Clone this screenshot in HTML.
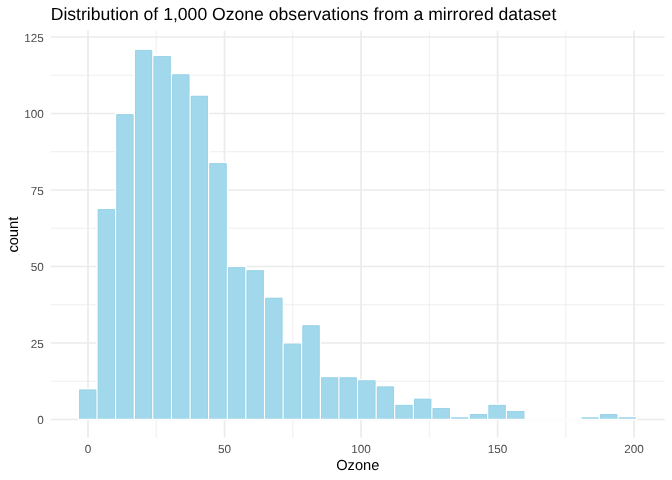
<!DOCTYPE html>
<html><head><meta charset="utf-8"><style>
html,body{margin:0;padding:0;background:#fff;overflow:hidden;width:672px;height:480px;}
svg{display:block;will-change:transform;}
text{font-family:"Liberation Sans",sans-serif;text-rendering:geometricPrecision;}
.ax{font-size:11.73px;fill:#4D4D4D;}
.at{font-size:14.67px;fill:#000;}
.ti{font-size:17.6px;fill:#000;}
</style></head><body>
<svg width="672" height="480" viewBox="0 0 672 480">
<rect x="0" y="0" width="672" height="480" fill="#fff"/>
<line x1="156.26" y1="30.8" x2="156.26" y2="437.7" stroke="#EBEBEB" stroke-width="0.85"/>
<line x1="292.79" y1="30.8" x2="292.79" y2="437.7" stroke="#EBEBEB" stroke-width="0.85"/>
<line x1="429.31" y1="30.8" x2="429.31" y2="437.7" stroke="#EBEBEB" stroke-width="0.85"/>
<line x1="565.84" y1="30.8" x2="565.84" y2="437.7" stroke="#EBEBEB" stroke-width="0.85"/>
<line x1="50.9" y1="381.25" x2="664.67" y2="381.25" stroke="#EBEBEB" stroke-width="0.85"/>
<line x1="50.9" y1="304.75" x2="664.67" y2="304.75" stroke="#EBEBEB" stroke-width="0.85"/>
<line x1="50.9" y1="228.25" x2="664.67" y2="228.25" stroke="#EBEBEB" stroke-width="0.85"/>
<line x1="50.9" y1="151.75" x2="664.67" y2="151.75" stroke="#EBEBEB" stroke-width="0.85"/>
<line x1="50.9" y1="75.25" x2="664.67" y2="75.25" stroke="#EBEBEB" stroke-width="0.85"/>
<line x1="88.00" y1="30.8" x2="88.00" y2="437.7" stroke="#EBEBEB" stroke-width="1.7"/>
<line x1="224.53" y1="30.8" x2="224.53" y2="437.7" stroke="#EBEBEB" stroke-width="1.7"/>
<line x1="361.05" y1="30.8" x2="361.05" y2="437.7" stroke="#EBEBEB" stroke-width="1.7"/>
<line x1="497.58" y1="30.8" x2="497.58" y2="437.7" stroke="#EBEBEB" stroke-width="1.7"/>
<line x1="634.10" y1="30.8" x2="634.10" y2="437.7" stroke="#EBEBEB" stroke-width="1.7"/>
<line x1="50.9" y1="419.50" x2="664.67" y2="419.50" stroke="#EBEBEB" stroke-width="1.7"/>
<line x1="50.9" y1="343.00" x2="664.67" y2="343.00" stroke="#EBEBEB" stroke-width="1.7"/>
<line x1="50.9" y1="266.50" x2="664.67" y2="266.50" stroke="#EBEBEB" stroke-width="1.7"/>
<line x1="50.9" y1="190.00" x2="664.67" y2="190.00" stroke="#EBEBEB" stroke-width="1.7"/>
<line x1="50.9" y1="113.50" x2="664.67" y2="113.50" stroke="#EBEBEB" stroke-width="1.7"/>
<line x1="50.9" y1="37.00" x2="664.67" y2="37.00" stroke="#EBEBEB" stroke-width="1.7"/>
<rect x="78.45" y="388.90" width="18.61" height="30.60" fill="rgb(162,216,235)" stroke="#fff" stroke-width="1.42"/>
<rect x="97.06" y="208.36" width="18.61" height="211.14" fill="rgb(162,216,235)" stroke="#fff" stroke-width="1.42"/>
<rect x="115.66" y="113.50" width="18.61" height="306.00" fill="rgb(162,216,235)" stroke="#fff" stroke-width="1.42"/>
<rect x="134.27" y="49.24" width="18.61" height="370.26" fill="rgb(162,216,235)" stroke="#fff" stroke-width="1.42"/>
<rect x="152.88" y="55.36" width="18.61" height="364.14" fill="rgb(162,216,235)" stroke="#fff" stroke-width="1.42"/>
<rect x="171.49" y="73.72" width="18.61" height="345.78" fill="rgb(162,216,235)" stroke="#fff" stroke-width="1.42"/>
<rect x="190.09" y="95.14" width="18.61" height="324.36" fill="rgb(162,216,235)" stroke="#fff" stroke-width="1.42"/>
<rect x="208.70" y="162.46" width="18.61" height="257.04" fill="rgb(162,216,235)" stroke="#fff" stroke-width="1.42"/>
<rect x="227.31" y="266.50" width="18.61" height="153.00" fill="rgb(162,216,235)" stroke="#fff" stroke-width="1.42"/>
<rect x="245.91" y="269.56" width="18.61" height="149.94" fill="rgb(162,216,235)" stroke="#fff" stroke-width="1.42"/>
<rect x="264.52" y="297.10" width="18.61" height="122.40" fill="rgb(162,216,235)" stroke="#fff" stroke-width="1.42"/>
<rect x="283.13" y="343.00" width="18.61" height="76.50" fill="rgb(162,216,235)" stroke="#fff" stroke-width="1.42"/>
<rect x="301.73" y="324.64" width="18.61" height="94.86" fill="rgb(162,216,235)" stroke="#fff" stroke-width="1.42"/>
<rect x="320.34" y="376.66" width="18.61" height="42.84" fill="rgb(162,216,235)" stroke="#fff" stroke-width="1.42"/>
<rect x="338.95" y="376.66" width="18.61" height="42.84" fill="rgb(162,216,235)" stroke="#fff" stroke-width="1.42"/>
<rect x="357.56" y="379.72" width="18.61" height="39.78" fill="rgb(162,216,235)" stroke="#fff" stroke-width="1.42"/>
<rect x="376.16" y="385.84" width="18.61" height="33.66" fill="rgb(162,216,235)" stroke="#fff" stroke-width="1.42"/>
<rect x="394.77" y="404.20" width="18.61" height="15.30" fill="rgb(162,216,235)" stroke="#fff" stroke-width="1.42"/>
<rect x="413.38" y="398.08" width="18.61" height="21.42" fill="rgb(162,216,235)" stroke="#fff" stroke-width="1.42"/>
<rect x="431.98" y="407.26" width="18.61" height="12.24" fill="rgb(162,216,235)" stroke="#fff" stroke-width="1.42"/>
<rect x="450.59" y="416.44" width="18.61" height="3.06" fill="rgb(162,216,235)" stroke="#fff" stroke-width="1.42"/>
<rect x="469.20" y="413.38" width="18.61" height="6.12" fill="rgb(162,216,235)" stroke="#fff" stroke-width="1.42"/>
<rect x="487.80" y="404.20" width="18.61" height="15.30" fill="rgb(162,216,235)" stroke="#fff" stroke-width="1.42"/>
<rect x="506.41" y="410.32" width="18.61" height="9.18" fill="rgb(162,216,235)" stroke="#fff" stroke-width="1.42"/>
<rect x="525.02" y="419.50" width="18.61" height="0.00" fill="rgb(162,216,235)" stroke="#fff" stroke-width="1.42"/>
<rect x="543.62" y="419.50" width="18.61" height="0.00" fill="rgb(162,216,235)" stroke="#fff" stroke-width="1.42"/>
<rect x="562.23" y="419.50" width="18.61" height="0.00" fill="rgb(162,216,235)" stroke="#fff" stroke-width="1.42"/>
<rect x="580.84" y="416.44" width="18.61" height="3.06" fill="rgb(162,216,235)" stroke="#fff" stroke-width="1.42"/>
<rect x="599.45" y="413.38" width="18.61" height="6.12" fill="rgb(162,216,235)" stroke="#fff" stroke-width="1.42"/>
<rect x="618.05" y="416.44" width="18.61" height="3.06" fill="rgb(162,216,235)" stroke="#fff" stroke-width="1.42"/>
<path d="M79.66 418.79 V390.11 H95.85 V418.79" fill="none" stroke="rgb(155,212,233)" stroke-width="1"/>
<path d="M98.27 418.79 V209.57 H114.45 V418.79" fill="none" stroke="rgb(155,212,233)" stroke-width="1"/>
<path d="M116.87 418.79 V114.71 H133.06 V418.79" fill="none" stroke="rgb(155,212,233)" stroke-width="1"/>
<path d="M135.48 418.79 V50.45 H151.67 V418.79" fill="none" stroke="rgb(155,212,233)" stroke-width="1"/>
<path d="M154.09 418.79 V56.57 H170.28 V418.79" fill="none" stroke="rgb(155,212,233)" stroke-width="1"/>
<path d="M172.70 418.79 V74.93 H188.88 V418.79" fill="none" stroke="rgb(155,212,233)" stroke-width="1"/>
<path d="M191.30 418.79 V96.35 H207.49 V418.79" fill="none" stroke="rgb(155,212,233)" stroke-width="1"/>
<path d="M209.91 418.79 V163.67 H226.10 V418.79" fill="none" stroke="rgb(155,212,233)" stroke-width="1"/>
<path d="M228.52 418.79 V267.71 H244.70 V418.79" fill="none" stroke="rgb(155,212,233)" stroke-width="1"/>
<path d="M247.12 418.79 V270.77 H263.31 V418.79" fill="none" stroke="rgb(155,212,233)" stroke-width="1"/>
<path d="M265.73 418.79 V298.31 H281.92 V418.79" fill="none" stroke="rgb(155,212,233)" stroke-width="1"/>
<path d="M284.34 418.79 V344.21 H300.52 V418.79" fill="none" stroke="rgb(155,212,233)" stroke-width="1"/>
<path d="M302.94 418.79 V325.85 H319.13 V418.79" fill="none" stroke="rgb(155,212,233)" stroke-width="1"/>
<path d="M321.55 418.79 V377.87 H337.74 V418.79" fill="none" stroke="rgb(155,212,233)" stroke-width="1"/>
<path d="M340.16 418.79 V377.87 H356.35 V418.79" fill="none" stroke="rgb(155,212,233)" stroke-width="1"/>
<path d="M358.76 418.79 V380.93 H374.95 V418.79" fill="none" stroke="rgb(155,212,233)" stroke-width="1"/>
<path d="M377.37 418.79 V387.05 H393.56 V418.79" fill="none" stroke="rgb(155,212,233)" stroke-width="1"/>
<path d="M395.98 418.79 V405.41 H412.17 V418.79" fill="none" stroke="rgb(155,212,233)" stroke-width="1"/>
<path d="M414.59 418.79 V399.29 H430.77 V418.79" fill="none" stroke="rgb(155,212,233)" stroke-width="1"/>
<path d="M433.19 418.79 V408.47 H449.38 V418.79" fill="none" stroke="rgb(155,212,233)" stroke-width="1"/>
<path d="M470.41 418.79 V414.59 H486.59 V418.79" fill="none" stroke="rgb(155,212,233)" stroke-width="1"/>
<path d="M489.01 418.79 V405.41 H505.20 V418.79" fill="none" stroke="rgb(155,212,233)" stroke-width="1"/>
<path d="M507.62 418.79 V411.53 H523.81 V418.79" fill="none" stroke="rgb(155,212,233)" stroke-width="1"/>
<path d="M600.66 418.79 V414.59 H616.84 V418.79" fill="none" stroke="rgb(155,212,233)" stroke-width="1"/>
<line x1="524.31" y1="419.5" x2="544.34" y2="419.5" stroke="#fff" stroke-width="1.42"/>
<line x1="542.91" y1="419.5" x2="562.94" y2="419.5" stroke="#fff" stroke-width="1.42"/>
<line x1="561.52" y1="419.5" x2="581.55" y2="419.5" stroke="#fff" stroke-width="1.42"/>
<text x="43.9" y="424.00" text-anchor="end" class="ax">0</text>
<text x="43.9" y="348.00" text-anchor="end" class="ax">25</text>
<text x="43.9" y="271.00" text-anchor="end" class="ax">50</text>
<text x="43.9" y="195.00" text-anchor="end" class="ax">75</text>
<text x="43.9" y="118.00" text-anchor="end" class="ax">100</text>
<text x="43.9" y="42.00" text-anchor="end" class="ax">125</text>
<text x="88.00" y="453.0" text-anchor="middle" class="ax">0</text>
<text x="224.53" y="453.0" text-anchor="middle" class="ax">50</text>
<text x="361.05" y="453.0" text-anchor="middle" class="ax">100</text>
<text x="497.58" y="453.0" text-anchor="middle" class="ax">150</text>
<text x="634.10" y="453.0" text-anchor="middle" class="ax">200</text>
<text x="357.8" y="469.9" text-anchor="middle" class="at">Ozone</text>
<text transform="translate(17.9 234.7) rotate(-90)" text-anchor="middle" class="at">count</text>
<text x="50.7" y="20.05" class="ti">Distribution of 1,000 Ozone observations from a mirrored dataset</text>
</svg>
</body></html>
